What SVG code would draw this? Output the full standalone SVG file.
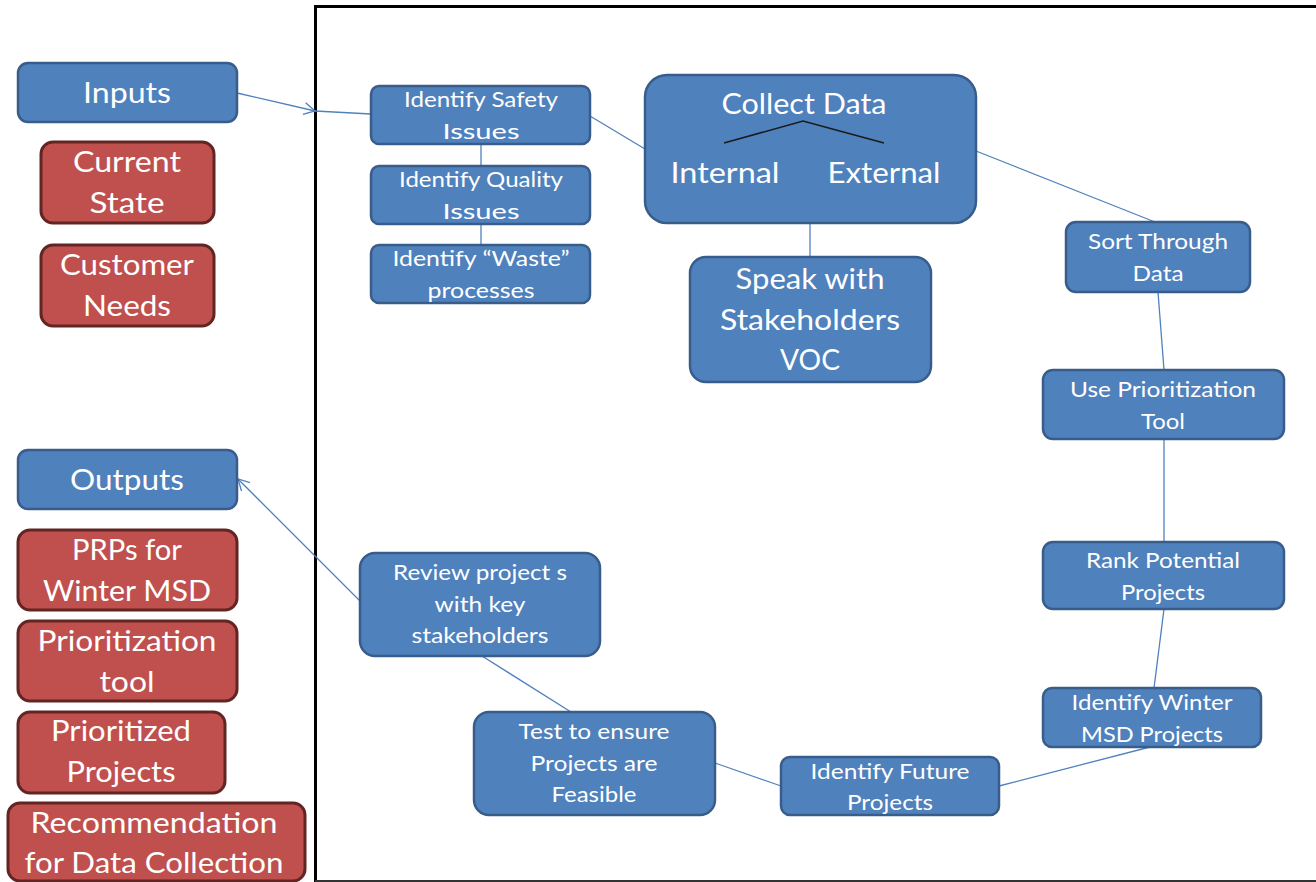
<svg xmlns="http://www.w3.org/2000/svg" width="1316" height="882" viewBox="0 0 1316 882">
<style>
.b{fill:#4F81BD;stroke:#385D8A;stroke-width:2.5}
.r{fill:#C0504D;stroke:#632523;stroke-width:3}
.t{fill:#fff;font-family:Lato,"Liberation Sans",sans-serif;text-anchor:middle}
.L{font-size:29px}
.S{font-size:21px}
.c{fill:none;stroke:#4F81BD;stroke-width:1.3}
</style>
<defs>
<marker id="ah" markerWidth="14" markerHeight="14" refX="12" refY="7" orient="auto" markerUnits="userSpaceOnUse">
<path d="M1,1 L12,7 L1,13" fill="none" stroke="#4F81BD" stroke-width="1.3"/>
</marker>
</defs>
<rect x="0" y="0" width="1316" height="882" fill="#fff"/>
<g id="frame">
<path d="M1320,6.5 L315.5,6.5 L315.5,882" fill="none" stroke="#000" stroke-width="3"/>
<line x1="315" y1="881" x2="1316" y2="881" stroke="#333" stroke-width="2"/>
</g>
<g id="connectors">
<line class="c" x1="237" y1="93" x2="315" y2="111" marker-end="url(#ah)"/>
<line class="c" x1="315" y1="111" x2="371" y2="114"/>
<line class="c" x1="481" y1="144" x2="481" y2="165"/>
<line class="c" x1="481" y1="224" x2="481" y2="245"/>
<line class="c" x1="590" y1="116" x2="645" y2="149"/>
<line class="c" x1="810" y1="223" x2="810" y2="257"/>
<line class="c" x1="976" y1="151" x2="1155" y2="222"/>
<line class="c" x1="1158" y1="292" x2="1164" y2="370"/>
<line class="c" x1="1164" y1="439" x2="1164" y2="542"/>
<line class="c" x1="1164" y1="609" x2="1154" y2="688"/>
<line class="c" x1="1150" y1="747" x2="999" y2="786"/>
<line class="c" x1="781" y1="786" x2="715" y2="763"/>
<line class="c" x1="571" y1="712" x2="482" y2="656"/>
<line class="c" x1="360" y1="601" x2="238" y2="479" marker-end="url(#ah)"/>
</g>
<g id="inputs"><rect class="b" x="18" y="63" width="219" height="59" rx="10"/><text class="t L" x="127" y="103" textLength="88" lengthAdjust="spacingAndGlyphs">Inputs</text></g>
<g id="current-state"><rect class="r" x="41" y="142" width="173" height="81" rx="12"/><text class="t L" x="127" y="172" textLength="108" lengthAdjust="spacingAndGlyphs">Current</text><text class="t L" x="127" y="213" textLength="75" lengthAdjust="spacingAndGlyphs">State</text></g>
<g id="customer-needs"><rect class="r" x="41" y="245" width="173" height="81" rx="12"/><text class="t L" x="127" y="275" textLength="134" lengthAdjust="spacingAndGlyphs">Customer</text><text class="t L" x="127" y="316" textLength="88" lengthAdjust="spacingAndGlyphs">Needs</text></g>
<g id="outputs"><rect class="b" x="18" y="450" width="219" height="59" rx="10"/><text class="t L" x="127" y="490" textLength="114" lengthAdjust="spacingAndGlyphs">Outputs</text></g>
<g id="prps"><rect class="r" x="18" y="530" width="219" height="80" rx="12"/><text class="t L" x="127" y="560" textLength="110" lengthAdjust="spacingAndGlyphs">PRPs for</text><text class="t L" x="127" y="601" textLength="168" lengthAdjust="spacingAndGlyphs">Winter MSD</text></g>
<g id="prioritization-tool"><rect class="r" x="18" y="621" width="219" height="80" rx="12"/><text class="t L" x="127" y="651" textLength="179" lengthAdjust="spacingAndGlyphs">Prioritization</text><text class="t L" x="127" y="692" textLength="55" lengthAdjust="spacingAndGlyphs">tool</text></g>
<g id="prioritized-projects"><rect class="r" x="18" y="712" width="207" height="81" rx="12"/><text class="t L" x="121" y="741" textLength="140" lengthAdjust="spacingAndGlyphs">Prioritized</text><text class="t L" x="121" y="782" textLength="109" lengthAdjust="spacingAndGlyphs">Projects</text></g>
<g id="recommendation"><rect class="r" x="8" y="803" width="297" height="78" rx="12"/><text class="t L" x="154" y="833" textLength="247" lengthAdjust="spacingAndGlyphs">Recommendation</text><text class="t L" x="154" y="873" textLength="259" lengthAdjust="spacingAndGlyphs">for Data Collection</text></g>
<g id="safety"><rect class="b" x="371" y="86" width="219" height="58" rx="8"/><text class="t S" x="481" y="107" textLength="154" lengthAdjust="spacingAndGlyphs">Identify Safety</text><text class="t S" x="481" y="139" textLength="77" lengthAdjust="spacingAndGlyphs">Issues</text></g>
<g id="quality"><rect class="b" x="371" y="166" width="219" height="58" rx="8"/><text class="t S" x="481" y="187" textLength="164" lengthAdjust="spacingAndGlyphs">Identify Quality</text><text class="t S" x="481" y="219" textLength="77" lengthAdjust="spacingAndGlyphs">Issues</text></g>
<g id="waste"><rect class="b" x="371" y="245" width="219" height="58" rx="8"/><text class="t S" x="481" y="266" textLength="177" lengthAdjust="spacingAndGlyphs">Identify “Waste”</text><text class="t S" x="481" y="298" textLength="107" lengthAdjust="spacingAndGlyphs">processes</text></g>
<g id="collect-data"><rect class="b" x="645" y="75" width="331" height="148" rx="22"/><text class="t L" x="804" y="114" textLength="165" lengthAdjust="spacingAndGlyphs">Collect Data</text><path d="M724,143 L803,121 L884,143" fill="none" stroke="#1a1a1a" stroke-width="1.5"/><text class="t L" x="725" y="183" textLength="109" lengthAdjust="spacingAndGlyphs">Internal</text><text class="t L" x="884" y="183" textLength="113" lengthAdjust="spacingAndGlyphs">External</text></g>
<g id="speak"><rect class="b" x="690" y="257" width="241" height="125" rx="16"/><text class="t L" x="810" y="289" textLength="149" lengthAdjust="spacingAndGlyphs">Speak with</text><text class="t L" x="810" y="330" textLength="180" lengthAdjust="spacingAndGlyphs">Stakeholders</text><text class="t L" x="810" y="370" textLength="60" lengthAdjust="spacingAndGlyphs">VOC</text></g>
<g id="sort"><rect class="b" x="1066" y="222" width="184" height="70" rx="10"/><text class="t S" x="1158" y="249" textLength="140" lengthAdjust="spacingAndGlyphs">Sort Through</text><text class="t S" x="1158" y="281" textLength="51" lengthAdjust="spacingAndGlyphs">Data</text></g>
<g id="use-prioritization"><rect class="b" x="1043" y="370" width="241" height="69" rx="10"/><text class="t S" x="1163" y="397" textLength="186" lengthAdjust="spacingAndGlyphs">Use Prioritization</text><text class="t S" x="1163" y="429" textLength="44" lengthAdjust="spacingAndGlyphs">Tool</text></g>
<g id="rank"><rect class="b" x="1043" y="542" width="241" height="67" rx="10"/><text class="t S" x="1163" y="568" textLength="154" lengthAdjust="spacingAndGlyphs">Rank Potential</text><text class="t S" x="1163" y="600" textLength="84" lengthAdjust="spacingAndGlyphs">Projects</text></g>
<g id="winter"><rect class="b" x="1043" y="688" width="218" height="59" rx="9"/><text class="t S" x="1152" y="710" textLength="161" lengthAdjust="spacingAndGlyphs">Identify Winter</text><text class="t S" x="1152" y="742" textLength="142" lengthAdjust="spacingAndGlyphs">MSD Projects</text></g>
<g id="future"><rect class="b" x="781" y="757" width="218" height="58" rx="9"/><text class="t S" x="890" y="779" textLength="159" lengthAdjust="spacingAndGlyphs">Identify Future</text><text class="t S" x="890" y="810" textLength="86" lengthAdjust="spacingAndGlyphs">Projects</text></g>
<g id="test"><rect class="b" x="474" y="712" width="241" height="103" rx="15"/><text class="t S" x="594" y="739" textLength="151" lengthAdjust="spacingAndGlyphs">Test to ensure</text><text class="t S" x="594" y="771" textLength="127" lengthAdjust="spacingAndGlyphs">Projects are</text><text class="t S" x="594" y="802" textLength="85" lengthAdjust="spacingAndGlyphs">Feasible</text></g>
<g id="review"><rect class="b" x="360" y="553" width="240" height="103" rx="15"/><text class="t S" x="480" y="580" textLength="174" lengthAdjust="spacingAndGlyphs">Review project s</text><text class="t S" x="480" y="612" textLength="91" lengthAdjust="spacingAndGlyphs">with key</text><text class="t S" x="480" y="643" textLength="137" lengthAdjust="spacingAndGlyphs">stakeholders</text></g>
</svg>
